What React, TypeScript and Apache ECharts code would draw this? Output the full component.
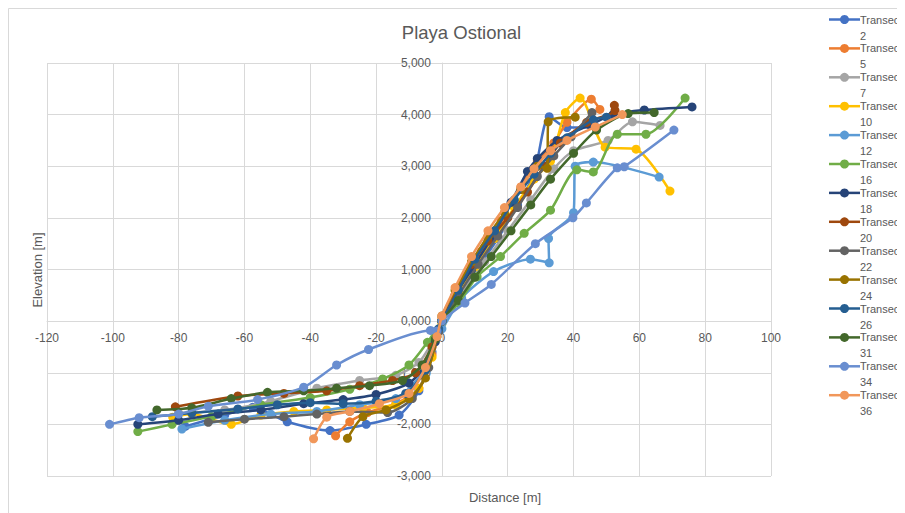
import React, { useEffect, useRef } from "react";
import * as echarts from "echarts";

const seriesNames = [
  "Transect 2", "Transect 5", "Transect 7", "Transect 10", "Transect 12", "Transect 16", "Transect 18",
  "Transect 20", "Transect 22", "Transect 24", "Transect 26", "Transect 31", "Transect 34", "Transect 36",
];
const seriesColors = [
  "#4472C4", "#ED7D31", "#A5A5A5", "#FFC000", "#5B9BD5", "#70AD47", "#264478",
  "#9E480E", "#636363", "#997300", "#255E91", "#43682B", "#698ED0", "#F1975A",
];

const xTicks = { min: -120, max: 100, step: 20 };
const yTicks = { min: -3, max: 5, step: 1 };

const t2 = [[-78,-2.04],[-66,-1.82],[-57.5,-1.67],[-47,-1.95],[-34,-2.12],[-23,-2.0],[-13,-1.82],[-7,-1.35],[-3,-0.6],[0,0],[5,0.5],[11,1.05],[17,1.6],[23,2.25],[28,2.85],[32.6,3.96],[38,3.75],[47,3.75]];
const t5 = [[-32.3,-2.22],[-28,-1.95],[-22.6,-1.77],[-14,-1.6],[-7,-1.3],[-3,-0.65],[0,0.05],[6,0.7],[12,1.35],[18,1.95],[24,2.6],[29,3.1],[34,3.45],[38,3.85],[45.4,4.3],[48,4.1]];
const t7 = [[-80,-1.78],[-66,-1.72],[-52,-1.55],[-38,-1.3],[-25,-1.15],[-14,-1.05],[-7,-0.8],[-2,-0.3],[0,0],[6,0.55],[13,1.15],[20,1.75],[27,2.35],[34,2.95],[40,3.3],[50.5,3.5],[57.9,3.86],[66.3,3.79]];
const t10 = [[-81.8,-1.86],[-76,-1.8],[-64,-2.0],[-55,-1.82],[-45,-1.75],[-35,-1.72],[-24,-1.68],[-14,-1.62],[-7,-1.3],[-3,-0.7],[0,-0.05],[5,0.55],[10,1.05],[16,1.6],[22,2.2],[28,2.75],[33,3.1],[37.5,4.04],[42,4.32],[49.6,3.37],[59,3.33],[69.3,2.52]];
const t12 = [[-79,-2.09],[-66,-1.92],[-52,-1.8],[-38,-1.75],[-25,-1.62],[-14,-1.5],[-6,-1.0],[-2,-0.2],[0,-0.15],[6,0.45],[15.7,0.96],[26.9,1.2],[32.6,1.13],[32.4,1.6],[40,2.1],[40.5,3.0],[46,3.08],[66,2.79]];
const t16 = [[-92.4,-2.14],[-82,-2.0],[-70,-1.85],[-55,-1.62],[-40,-1.48],[-28,-1.32],[-18,-1.12],[-10,-0.85],[-4.4,-0.41],[0,0],[5,0.35],[10.7,0.86],[17.8,1.25],[25,1.7],[33,2.15],[41,2.93],[46,2.89],[53.3,3.62],[62,3.62],[73.9,4.32]];
const t18 = [[-92.4,-2.0],[-80,-1.92],[-68,-1.8],[-55,-1.72],[-42,-1.6],[-30,-1.52],[-20,-1.42],[-10,-1.2],[-5,-0.85],[-2,-0.4],[0,0],[4,0.5],[9,1.0],[15,1.6],[21,2.3],[26,2.9],[29,3.15],[35,3.5],[45,3.8],[52,4.0],[61.5,4.09],[76,4.15]];
const t20 = [[-81,-1.66],[-62,-1.45],[-48,-1.4],[-35,-1.35],[-25,-1.25],[-15,-1.15],[-8,-1.0],[-3,-0.5],[0,0],[4,0.5],[9,1.1],[14,1.55],[20,2.0],[26,2.5],[31,3.0],[36,3.45],[44,3.85],[52.6,4.08],[52.4,4.18]];
const t22 = [[-71,-1.96],[-60,-1.9],[-48,-1.85],[-38,-1.8],[-28,-1.75],[-16.5,-1.77],[-9,-1.5],[-4,-0.9],[-1,-0.2],[0,0],[5,0.5],[11,1.1],[17,1.65],[23,2.2],[29,2.8],[34,3.2],[39.3,3.57],[45.6,4.04]];
const t24 = [[-28.7,-2.27],[-24,-1.85],[-17,-1.72],[-10,-1.5],[-5,-1.1],[-1.5,-0.3],[0,0.1],[4,0.6],[9,1.15],[14,1.65],[19,2.1],[24,2.55],[29,3.0],[32,2.96],[32.3,3.86],[40.5,3.95]];
const t26 = [[-88,-1.85],[-76,-1.78],[-62,-1.7],[-50,-1.62],[-40,-1.58],[-30,-1.6],[-20,-1.55],[-11,-1.4],[-5,-0.95],[-1,-0.15],[0,0],[5,0.6],[10,1.2],[16,1.75],[22,2.35],[28,2.85],[33,3.25],[38,3.55],[46,3.9],[50,3.95]];
const t31 = [[-86.6,-1.72],[-76,-1.68],[-64,-1.5],[-53,-1.38],[-42,-1.35],[-32,-1.3],[-22,-1.25],[-12,-1.15],[-6,-0.85],[-2,-0.35],[0,0],[5,0.4],[10,0.85],[15,1.25],[21,1.75],[27,2.25],[33,2.75],[40,3.25],[47,3.7],[56.6,4.02],[64.5,4.04]];
const t34 = [[-101,-2.0],[-92,-1.87],[-80,-1.8],[-71,-1.65],[-56,-1.52],[-42,-1.28],[-32,-0.85],[-22.3,-0.55],[-3.5,-0.18],[-1.5,-0.19],[0,0],[7,0.35],[15,0.71],[28.4,1.5],[39.8,2.0],[43.9,2.29],[53.3,2.97],[55.4,2.99],[70.5,3.7]];
const t36 = [[-39,-2.28],[-35,-1.86],[-28,-1.75],[-19,-1.6],[-10,-1.4],[-5,-0.9],[-1.5,-0.3],[0,0.1],[4,0.65],[9,1.25],[14,1.75],[19,2.2],[24,2.6],[28,2.95],[33,3.3],[38,3.5],[46.6,3.76],[54.8,4.0]];

const seriesData = [t2, t5, t7, t10, t12, t16, t18, t20, t22, t24, t26, t31, t34, t36];

const FONT = "'Liberation Sans', Arial, sans-serif";
const GRAY = "#595959";

const CHART_W = 897;
const CHART_H = 505;
const GRID = { left: 39, right: 134, top: 55, bottom: 37 };

export default function App() {
  const ref = useRef<HTMLDivElement>(null);
  useEffect(() => {
    document.documentElement.style.overflow = "hidden";
    document.body.style.overflow = "hidden";
    const chart = echarts.init(ref.current!, null, { renderer: "svg" });

    const gridW = CHART_W - GRID.left - GRID.right;
    const gridH = CHART_H - GRID.top - GRID.bottom;
    // shift the axes so that they cross at zero, with their labels next to them
    const xAxisOffset = -gridH * (0 - yTicks.min) / (yTicks.max - yTicks.min);
    const yAxisOffset = -gridW * (0 - xTicks.min) / (xTicks.max - xTicks.min);

    const legendItems: any[] = [];
    seriesNames.forEach((name, i) => {
      const y = 11.5 + 28.9 * i;
      const parts = name.split(" ");
      legendItems.push(
        { type: "line", shape: { x1: 821, y1: y, x2: 852, y2: y }, style: { stroke: seriesColors[i], lineWidth: 2.5 } },
        { type: "circle", shape: { cx: 836.5, cy: y, r: 4.5 }, style: { fill: seriesColors[i] } },
        { type: "text", x: 852, y, style: { text: parts[0], fontSize: 11, fontFamily: FONT, fill: GRAY, verticalAlign: "middle" } },
        { type: "text", x: 852, y: y + 16, style: { text: parts[1], fontSize: 11, fontFamily: FONT, fill: GRAY, verticalAlign: "middle" } }
      );
    });

    chart.setOption({
      animation: false,
      backgroundColor: "#ffffff",
      grid: { ...GRID, containLabel: false },
      xAxis: {
        type: "value",
        min: xTicks.min,
        max: xTicks.max,
        interval: xTicks.step,
        offset: xAxisOffset,
        axisLine: { onZero: false, lineStyle: { color: "#d9d9d9", width: 1 } },
        axisTick: { show: false },
        axisLabel: { color: GRAY, fontSize: 12, fontFamily: FONT, margin: 11 },
        splitLine: { show: true, lineStyle: { color: "#d9d9d9", width: 1 } },
      },
      yAxis: {
        type: "value",
        min: yTicks.min,
        max: yTicks.max,
        interval: yTicks.step,
        offset: yAxisOffset,
        axisLine: { show: true, onZero: false, lineStyle: { color: "#d9d9d9", width: 1 } },
        axisTick: { show: false },
        axisLabel: {
          color: GRAY,
          fontSize: 12,
          fontFamily: FONT,
          margin: 11,
          formatter: (v: number) => v.toFixed(3).replace(".", ","),
        },
        splitLine: { show: true, lineStyle: { color: "#d9d9d9", width: 1 } },
      },
      graphic: [
        { type: "rect", shape: { x: 0.5, y: 0.5, width: 2000, height: 2000 }, style: { fill: "none", stroke: "#d9d9d9", lineWidth: 1 }, z: -10 },
        { type: "text", x: 453.5, y: 24, style: { text: "Playa Ostional", fontSize: 18.5, fontFamily: FONT, fill: GRAY, align: "center", verticalAlign: "middle" } },
        { type: "text", x: 497, y: 489, style: { text: "Distance [m]", fontSize: 13, fontFamily: FONT, fill: GRAY, align: "center", verticalAlign: "middle" } },
        { type: "text", x: 29, y: 262, rotation: Math.PI / 2, style: { text: "Elevation [m]", fontSize: 13, fontFamily: FONT, fill: GRAY, align: "center", verticalAlign: "middle" } },
        ...legendItems,
      ],
      series: seriesData.map((d, i) => ({
        type: "line",
        name: seriesNames[i],
        data: d,
        smooth: 0.25,
        symbol: "circle",
        symbolSize: 9,
        showSymbol: true,
        lineStyle: { width: 2.5, color: seriesColors[i] },
        itemStyle: { color: seriesColors[i] },
        emphasis: { disabled: true },
        z: 2 + i * 0.01,
      })),
    });
    return () => chart.dispose();
  }, []);
  return <div ref={ref} style={{ width: CHART_W, height: CHART_H }} />;
}
